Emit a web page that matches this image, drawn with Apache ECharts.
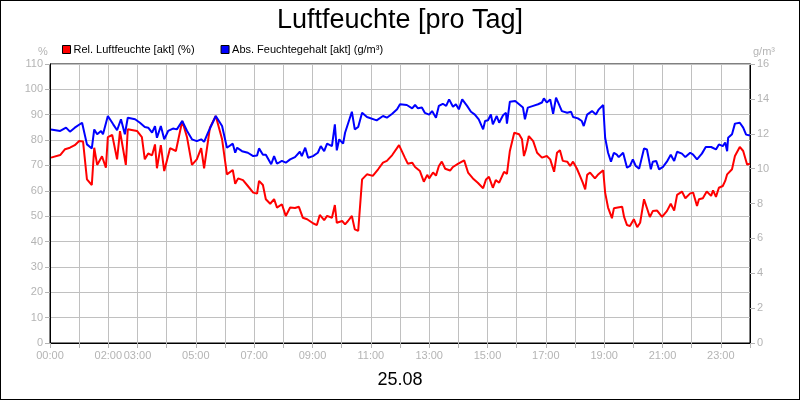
<!DOCTYPE html>
<html>
<head>
<meta charset="utf-8">
<title>Luftfeuchte [pro Tag]</title>
<script src="https://cdn.jsdelivr.net/npm/echarts@6/dist/echarts.min.js"></script>
<style>
  html, body { margin: 0; padding: 0; background: #fff; }
  #wrap { position: relative; width: 800px; height: 400px; }
  #chart { position: absolute; left: 0; top: 0; width: 800px; height: 400px; }
  #frame { position: absolute; left: 0; top: 0; width: 800px; height: 400px; box-sizing: border-box; border: 1px solid #000; pointer-events: none; }
</style>
</head>
<body>
<div id="wrap">
  <div id="chart"></div>
  <div id="frame"></div>
</div>
<script>
// Zeit in Minuten nach Mitternacht
const relTime = [
  2, 21, 31, 41, 51, 60, 68, 76, 80, 86,
  91, 97, 101, 107, 115, 119, 128, 138, 144, 156,
  160, 179, 189, 195, 202, 210, 216, 220, 228, 235,
  247, 259, 272, 282, 292, 302, 311, 317, 329, 341,
  354, 364, 376, 381, 387, 397, 407, 418, 426, 430,
  438, 444, 453, 461, 467, 477, 485, 494, 504, 512,
  520, 529, 541, 549, 555, 564, 570, 580, 586, 590,
  601, 607, 613, 621, 627, 634, 642, 652, 664, 675,
  685, 693, 704, 718, 730, 736, 745, 751, 761, 769,
  776, 780, 788, 794, 800, 806, 813, 817, 823, 829,
  839, 852, 860, 870, 880, 891, 897, 903, 911, 917,
  924, 934, 940, 946, 955, 965, 971, 975, 979, 985,
  994, 1002, 1012, 1022, 1029, 1037, 1043, 1049, 1055, 1064,
  1070, 1076, 1084, 1090, 1096, 1101, 1105, 1111, 1121, 1127,
  1138, 1142, 1148, 1156, 1160, 1168, 1177, 1181, 1187, 1193,
  1201, 1208, 1214, 1222, 1226, 1234, 1240, 1249, 1259, 1269,
  1277, 1284, 1290, 1300, 1307, 1317, 1323, 1331, 1335, 1343,
  1351, 1360, 1364, 1370, 1376, 1384, 1389, 1393, 1403, 1409,
  1419, 1426, 1434, 1440
]
// Rel. Luftfeuchte (%)
const relHum = [
  73.1, 74.1, 76.4, 77.0, 78.0, 79.6, 79.4, 64.5, 64.5, 62.3,
  77.0, 70.2, 70.2, 73.6, 69.1, 81.2, 82.0, 72.4, 83.5, 70.2,
  84.3, 83.6, 81.2, 72.4, 74.7, 74.0, 78.3, 68.9, 78.0, 67.8,
  76.8, 75.7, 87.5, 81.0, 70.2, 72.4, 76.8, 68.9, 84.9, 89.5,
  80.3, 66.5, 68.2, 62.8, 64.9, 64.2, 61.9, 59.3, 58.9, 63.9,
  62.3, 56.7, 54.9, 56.7, 53.4, 54.7, 50.1, 53.4, 53.2, 53.7,
  49.4, 48.8, 47.2, 46.5, 50.5, 48.4, 50.1, 49.4, 54.4, 47.4,
  48.1, 46.8, 48.1, 50.1, 44.8, 44.2, 64.5, 66.5, 65.9, 68.5,
  71.1, 71.8, 74.1, 78.0, 73.1, 70.7, 71.1, 69.4, 67.8, 63.6,
  66.3, 64.9, 67.2, 66.0, 69.8, 71.5, 68.7, 69.4, 68.0, 69.4,
  70.6, 72.0, 67.2, 64.9, 63.2, 61.0, 64.5, 65.5, 61.2, 64.2,
  63.2, 67.5, 66.7, 75.7, 82.9, 82.3, 80.3, 73.7, 76.2, 81.6,
  79.6, 75.0, 73.1, 73.7, 72.4, 67.5, 75.0, 76.0, 71.8, 71.5,
  69.8, 71.5, 68.7, 66.0, 63.2, 60.6, 66.3, 67.2, 64.9, 66.3,
  68.1, 59.3, 53.4, 49.2, 53.1, 53.4, 53.7, 49.7, 46.5, 46.1,
  48.8, 45.7, 47.4, 56.7, 57.1, 49.7, 52.0, 52.2, 49.7, 52.0,
  54.9, 52.2, 58.4, 59.7, 57.1, 59.0, 59.3, 54.0, 56.7, 57.1,
  59.7, 58.0, 60.2, 57.6, 61.2, 61.9, 63.9, 66.5, 68.5, 73.7,
  77.3, 75.7, 70.4, 70.7
]

const absTime = [
  2, 21, 33, 41, 51, 66, 76, 80, 86, 91,
  97, 105, 109, 119, 130, 138, 146, 154, 160, 175,
  185, 195, 202, 210, 216, 220, 228, 235, 243, 253,
  261, 272, 282, 292, 302, 311, 317, 325, 341, 354,
  364, 376, 381, 385, 395, 407, 418, 426, 430, 438,
  444, 455, 461, 467, 477, 485, 494, 504, 514, 518,
  525, 531, 541, 551, 557, 564, 570, 580, 586, 590,
  595, 603, 607, 611, 621, 627, 634, 642, 652, 672,
  685, 693, 704, 714, 720, 734, 745, 751, 757, 765,
  771, 780, 786, 794, 800, 808, 815, 821, 829, 835,
  841, 848, 858, 866, 874, 882, 891, 895, 901, 907,
  911, 919, 924, 932, 938, 940, 946, 957, 965, 973,
  977, 983, 994, 1004, 1012, 1016, 1022, 1029, 1035, 1041,
  1045, 1053, 1064, 1072, 1076, 1086, 1094, 1098, 1105, 1115,
  1123, 1129, 1138, 1142, 1148, 1154, 1160, 1166, 1170, 1179,
  1187, 1193, 1199, 1205, 1212, 1222, 1228, 1236, 1240, 1247,
  1253, 1261, 1269, 1277, 1284, 1290, 1300, 1307, 1317, 1323,
  1331, 1341, 1349, 1360, 1364, 1370, 1376, 1384, 1389, 1393,
  1395, 1403, 1409, 1419, 1426, 1432, 1440
]
// Abs. Feuchtegehalt (g/m³)
const absHum = [
  12.25, 12.16, 12.35, 12.12, 12.35, 12.63, 11.39, 11.5, 11.16, 12.25,
  11.97, 12.16, 11.97, 13.02, 12.54, 12.2, 12.83, 11.97, 12.92, 12.83,
  12.63, 12.39, 12.35, 12.06, 12.44, 11.77, 12.44, 11.68, 12.16, 12.3,
  12.25, 12.73, 12.16, 11.68, 11.58, 11.68, 11.54, 12.06, 13.02, 12.44,
  11.2, 11.43, 10.91, 11.2, 11.0, 10.91, 10.72, 10.75, 11.16, 10.8,
  10.8, 10.25, 10.72, 10.28, 10.44, 10.34, 10.53, 10.66, 10.97, 10.72,
  11.2, 10.62, 10.72, 10.91, 11.29, 11.0, 11.43, 11.29, 12.54, 11.05,
  11.68, 11.43, 12.06, 12.06, 13.26, 12.25, 12.39, 13.2, 12.96, 12.77,
  13.02, 12.92, 13.15, 13.4, 13.69, 13.65, 13.46, 13.65, 13.46, 13.5,
  13.2, 13.1, 13.3, 12.92, 13.6, 13.72, 13.6, 13.97, 13.55, 13.69,
  13.4, 13.97, 13.6, 13.26, 13.1, 12.83, 12.25, 12.73, 12.77, 13.1,
  12.54, 13.02, 12.63, 13.06, 13.2, 12.58, 13.84, 13.88, 13.69, 13.5,
  12.83, 13.5, 13.6, 13.69, 13.79, 14.03, 13.79, 13.97, 13.15, 14.07,
  14.16, 13.3, 13.2, 13.26, 12.96, 12.88, 12.73, 12.44, 13.1, 13.3,
  13.1, 13.4, 13.65, 11.77, 10.91, 10.4, 10.91, 10.8, 10.66, 10.91,
  10.05, 10.15, 10.53, 10.15, 10.0, 11.16, 11.1, 9.96, 10.4, 10.44,
  9.96, 10.1, 10.4, 10.8, 10.44, 10.97, 10.86, 10.66, 10.91, 10.8,
  10.53, 10.86, 11.24, 11.24, 11.35, 11.1, 11.39, 11.29, 11.5, 11.0,
  11.77, 11.97, 12.58, 12.63, 12.35, 11.95, 11.9
]

// beschriftete Stunden auf der x-Achse
const xLabels = ['00:00', '02:00', '03:00', '05:00', '07:00', '09:00', '11:00',
  '13:00', '15:00', '17:00', '19:00', '21:00', '23:00']

const FONT = 'Liberation Sans, Arial, sans-serif'
const GRAY = '#b4b4b4'
const GRID = '#c0c0c0'

const pad = (n) => String(n).padStart(2, '0')
const fmtTime = (min) => pad(Math.floor(min / 60)) + ':' + pad(min % 60)

const chart = echarts.init(document.getElementById('chart'), null, { renderer: 'canvas' })

const option = {
  animation: false,
  backgroundColor: '#fff',
  title: {
    text: 'Luftfeuchte [pro Tag]',
    left: 'center',
    top: 2,
    textStyle: { fontFamily: FONT, fontSize: 27, fontWeight: 'normal', color: '#000' }
  },
  legend: {
    left: 57,
    top: 39,
    icon: 'rect',
    itemWidth: 8,
    itemHeight: 8,
    itemGap: 26,
    textStyle: { fontFamily: FONT, fontSize: 11, color: '#000', padding: [0, 0, 0, -2] },
    itemStyle: { borderColor: '#000', borderWidth: 1 },
    data: ['Rel. Luftfeuchte [akt] (%)', 'Abs. Feuchtegehalt [akt] (g/m³)']
  },
  grid: {
    left: 50,
    right: 50,
    top: 64,
    bottom: 57,
    show: true,
    borderColor: '#000',
    borderWidth: 1,
    containLabel: false
  },
  xAxis: {
    type: 'value',
    min: 0,
    max: 1440,
    interval: 60,
    name: '25.08',
    nameLocation: 'middle',
    nameGap: 28,
    nameTextStyle: { fontFamily: FONT, fontSize: 18, color: '#000' },
    axisLine: { show: true, lineStyle: { color: '#000', width: 1 } },
    axisTick: { show: true, length: 5, lineStyle: { color: GRAY } },
    axisLabel: {
      fontFamily: FONT,
      fontSize: 11,
      color: GRAY,
      margin: 7,
      showMinLabel: true,
      showMaxLabel: true,
      formatter: (v) => {
        const s = fmtTime(v)
        return xLabels.includes(s) ? s : ''
      }
    },
    splitLine: { show: true, lineStyle: { color: GRID, width: 1 } }
  },
  yAxis: [
    {
      type: 'value',
      min: 0,
      max: 110,
      interval: 10,
      position: 'left',
      name: '%',
      nameGap: 7,
      nameTextStyle: { fontFamily: FONT, fontSize: 11, color: GRAY, padding: [0, 14, 0, 0] },
      axisLine: { show: true, lineStyle: { color: '#000', width: 1 } },
      axisTick: { show: true, length: 5, lineStyle: { color: GRAY } },
      axisLabel: { fontFamily: FONT, fontSize: 11, color: GRAY, margin: 7 },
      splitLine: { show: true, lineStyle: { color: GRID, width: 1 } }
    },
    {
      type: 'value',
      min: 0,
      max: 16,
      interval: 2,
      position: 'right',
      name: 'g/m³',
      nameGap: 7,
      nameTextStyle: { fontFamily: FONT, fontSize: 11, color: GRAY, padding: [0, 0, 0, 28] },
      axisLine: { show: true, lineStyle: { color: '#000', width: 1 } },
      axisTick: { show: true, length: 5, lineStyle: { color: GRAY } },
      axisLabel: { fontFamily: FONT, fontSize: 11, color: GRAY, margin: 7 },
      splitLine: { show: false }
    }
  ],
  series: [
    {
      name: 'Rel. Luftfeuchte [akt] (%)',
      type: 'line',
      yAxisIndex: 0,
      showSymbol: false,
      symbol: 'none',
      color: '#ff0000',
      lineStyle: { color: '#ff0000', width: 2 },
      data: relTime.map((t, i) => [t, relHum[i]]),
      z: 3
    },
    {
      name: 'Abs. Feuchtegehalt [akt] (g/m³)',
      type: 'line',
      yAxisIndex: 1,
      showSymbol: false,
      symbol: 'none',
      color: '#0000ff',
      lineStyle: { color: '#0000ff', width: 2 },
      data: absTime.map((t, i) => [t, absHum[i]]),
      z: 4
    }
  ]
}

chart.setOption(option)
</script>
</body>
</html>
